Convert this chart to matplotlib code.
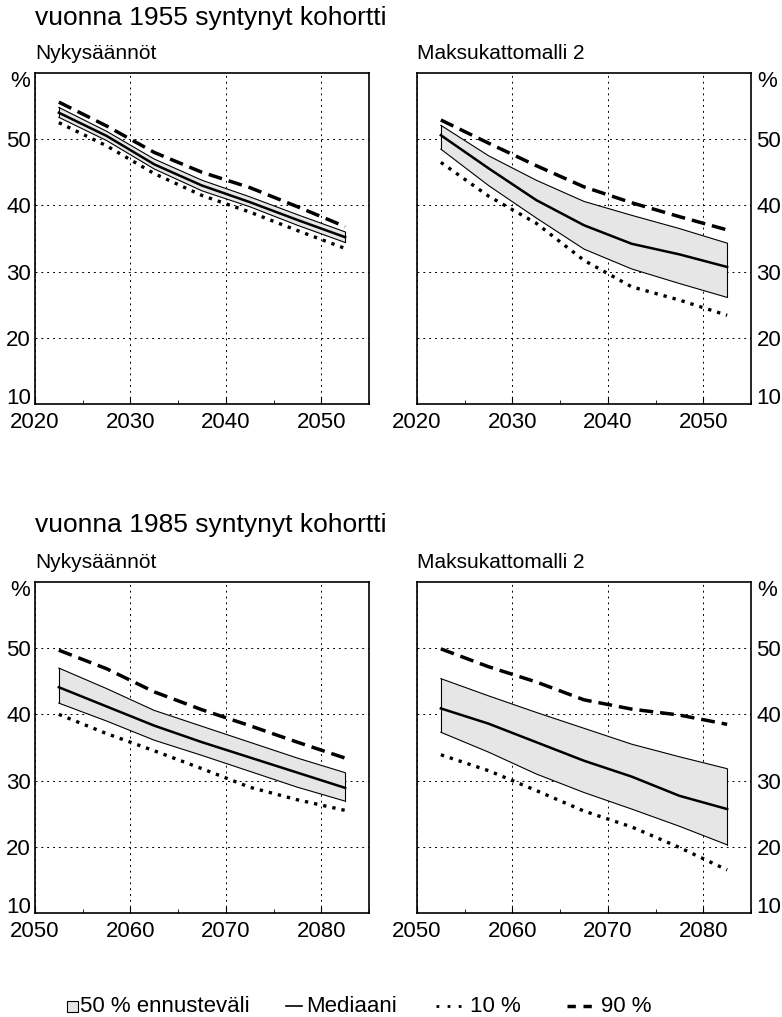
import matplotlib
matplotlib.use("Agg")
import matplotlib.pyplot as plt
from matplotlib.patches import Rectangle
from matplotlib.lines import Line2D
from matplotlib.ticker import MultipleLocator

plt.rcParams['font.family'] = ['Liberation Sans', 'DejaVu Sans']

# ajanhetket (5 vuoden jaksojen keskikohdat)
years_1955 = [2022.5, 2027.5, 2032.5, 2037.5, 2042.5, 2047.5, 2052.5]
years_1985 = [2052.5, 2057.5, 2062.5, 2067.5, 2072.5, 2077.5, 2082.5]

# vuonna 1955 syntynyt, Nykysäännöt
nyk55_p10 = [52.5, 49.0, 44.8, 41.5, 39.0, 36.2, 33.5]
nyk55_p25 = [53.3, 49.8, 45.5, 42.2, 39.8, 37.0, 34.4]
nyk55_med = [54.0, 50.5, 46.2, 43.0, 40.5, 37.8, 35.2]
nyk55_p75 = [54.8, 51.2, 47.0, 43.8, 41.3, 38.6, 36.0]
nyk55_p90 = [55.6, 52.0, 48.0, 45.0, 42.7, 39.8, 36.8]

# vuonna 1955 syntynyt, Maksukattomalli 2
mk55_p10 = [46.5, 41.4, 37.3, 31.7, 27.7, 25.7, 23.4]
mk55_p25 = [48.5, 43.0, 38.1, 33.4, 30.4, 28.2, 26.1]
mk55_med = [50.6, 45.6, 40.8, 37.0, 34.2, 32.6, 30.7]
mk55_p75 = [52.1, 47.5, 43.8, 40.6, 38.5, 36.5, 34.3]
mk55_p90 = [52.9, 49.4, 46.0, 42.8, 40.4, 38.3, 36.3]

# vuonna 1985 syntynyt, Nykysäännöt
nyk85_p10 = [40.0, 37.1, 34.5, 31.8, 29.0, 27.1, 25.5]
nyk85_p25 = [41.7, 39.0, 36.1, 33.8, 31.4, 29.0, 26.9]
nyk85_med = [44.1, 41.2, 38.3, 35.8, 33.5, 31.2, 28.9]
nyk85_p75 = [47.0, 43.9, 40.6, 38.2, 35.8, 33.4, 31.2]
nyk85_p90 = [49.7, 46.9, 43.4, 40.7, 38.3, 35.8, 33.4]

# vuonna 1985 syntynyt, Maksukattomalli 2
mk85_p10 = [33.9, 31.5, 28.5, 25.4, 23.0, 19.9, 16.5]
mk85_p25 = [37.3, 34.3, 31.0, 28.2, 25.7, 23.1, 20.3]
mk85_med = [40.9, 38.6, 35.8, 33.0, 30.6, 27.7, 25.7]
mk85_p75 = [45.4, 42.8, 40.3, 37.9, 35.5, 33.6, 31.8]
mk85_p90 = [49.9, 47.2, 44.9, 42.2, 40.8, 39.9, 38.5]

titles = ["vuonna 1955 syntynyt kohortti", "vuonna 1985 syntynyt kohortti"]
subtitles = ["Nykysäännöt", "Maksukattomalli 2"]
legend_labels = ["50 % ennusteväli", "Mediaani", "10 %", "90 %"]

panels = [
    (years_1955, nyk55_p10, nyk55_p25, nyk55_med, nyk55_p75, nyk55_p90),
    (years_1955, mk55_p10, mk55_p25, mk55_med, mk55_p75, mk55_p90),
    (years_1985, nyk85_p10, nyk85_p25, nyk85_med, nyk85_p75, nyk85_p90),
    (years_1985, mk85_p10, mk85_p25, mk85_med, mk85_p75, mk85_p90),
]
xstarts = [2020, 2020, 2050, 2050]

band_col = '#e6e6e6'
dots = (0, (1.0, 1.8))
dashes = (0, (4, 2))

W, H = 782, 1017
fig = plt.figure(figsize=(W / 100, H / 100), dpi=100)

lefts = [35, 417, 35, 417]
tops = [73, 73, 582, 582]
aw, ah = 334, 331

for i, (yrs, p10, p25, med, p75, p90) in enumerate(panels):
    ax = fig.add_axes([lefts[i] / W, 1 - (tops[i] + ah) / H, aw / W, ah / H])
    ax.fill_between(yrs, p25, p75, facecolor=band_col, edgecolor='none', zorder=2)
    ax.plot(yrs, p25, color='black', lw=0.8, zorder=3)
    ax.plot(yrs, p75, color='black', lw=0.8, zorder=3)
    ax.plot([yrs[0], yrs[0]], [p25[0], p75[0]], color='black', lw=0.8, zorder=3)
    ax.plot([yrs[-1], yrs[-1]], [p25[-1], p75[-1]], color='black', lw=0.8, zorder=3)
    ax.plot(yrs, med, color='black', lw=1.8, zorder=4)
    ax.plot(yrs, p10, color='black', lw=2.4, ls=dots, zorder=4)
    ax.plot(yrs, p90, color='black', lw=2.5, ls=dashes, zorder=4)

    x0 = xstarts[i]
    ax.set_xlim(x0, x0 + 35)
    ax.set_ylim(10, 60)
    ax.set_xticks([x0, x0 + 10, x0 + 20, x0 + 30])
    ax.xaxis.set_minor_locator(MultipleLocator(5))
    ax.set_yticks([10, 20, 30, 40, 50])
    ax.grid(True, which='major', color='black', ls=(0, (2, 4)), lw=0.7)
    ax.tick_params(which='both', direction='in', labelsize=16)
    ax.tick_params(axis='x', which='major', length=5, pad=6)
    ax.tick_params(axis='x', which='minor', length=3)
    ax.tick_params(axis='y', length=0, pad=3)
    for s in ax.spines.values():
        s.set_linewidth(1.2)
    first = ax.yaxis.get_major_ticks()[0]
    if i % 2 == 1:
        ax.yaxis.tick_right()
        ax.tick_params(axis='y', length=0, pad=4)
        first.label2.set_verticalalignment('baseline')
        ax.text(1.02, 0.975, "%", transform=ax.transAxes, ha='left', va='center', fontsize=16)
    else:
        first.label1.set_verticalalignment('baseline')
        ax.text(-0.015, 0.975, "%", transform=ax.transAxes, ha='right', va='center', fontsize=16)
    ax.text(0.0, 1.03, subtitles[i % 2], transform=ax.transAxes, ha='left', va='bottom', fontsize=15)

fig.text(35 / W, 1 - 18 / H, titles[0], ha='left', va='center', fontsize=19)
fig.text(35 / W, 1 - 525 / H, titles[1], ha='left', va='center', fontsize=19)

# selite kuvan alareunassa
ly = 1 - 1006 / H
fig.patches.append(Rectangle((67 / W, ly - 5.5 / H), 11 / W, 11 / H, transform=fig.transFigure,
                             facecolor=band_col, edgecolor='black', lw=0.8))
fig.lines.append(Line2D([286 / W, 302 / W], [ly, ly], transform=fig.transFigure,
                        color='black', lw=1.2))
fig.lines.append(Line2D([436 / W, 468 / W], [ly, ly], transform=fig.transFigure,
                        color='black', lw=2.0, ls=(0, (1.0, 3.0))))
fig.lines.append(Line2D([567 / W, 598 / W], [ly, ly], transform=fig.transFigure,
                        color='black', lw=2.5, ls=(0, (2.4, 2.2))))
for x, lab in zip([80, 306, 470, 601], legend_labels):
    fig.text(x / W, ly, lab, ha='left', va='center', fontsize=16)

fig.savefig("out.png", dpi=100)
